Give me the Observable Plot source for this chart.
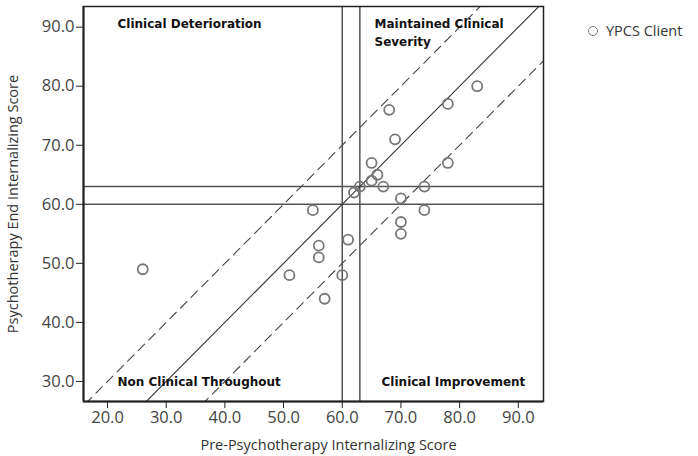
<!DOCTYPE html>
<html>
<head>
<meta charset="utf-8">
<script src="https://cdn.jsdelivr.net/npm/d3@7"></script>
<script src="https://cdn.jsdelivr.net/npm/@observablehq/plot@0.6"></script>
<style>
  html, body { margin: 0; padding: 0; background: #fff; }
  #wrap { position: relative; width: 698px; height: 456px; font-family: "Open Sans", "DejaVu Sans", sans-serif; }
  #legend { position: absolute; left: 588px; top: 21px; font-size: 14.5px; color: #333; display: flex; align-items: center; }
  #legend .dot { width: 8px; height: 8px; border: 1.8px solid #777; border-radius: 50%; margin-right: 8px; }
</style>
</head>
<body>
<div id="wrap"><div id="legend"><span class="dot"></span><span>YPCS Client</span></div></div>
<script>
// Data
const preScores = [83, 78, 68, 69, 65, 78, 66, 65, 63, 62, 67, 74, 70, 74, 70, 70, 61, 55, 56, 56, 51, 60, 57, 26];
const endScores = [80, 77, 76, 71, 67, 67, 65, 64, 63, 62, 63, 63, 61, 59, 57, 55, 54, 59, 53, 51, 48, 48, 44, 49];
const thresholds = [60, 63];
const changeOffsets = [-10, 10];
const xTicks = [20, 30, 40, 50, 60, 70, 80, 90];
const yTicks = [30, 40, 50, 60, 70, 80, 90];
const quadrantLabels = ["Clinical Deterioration", "Maintained Clinical\nSeverity", "Non Clinical Throughout", "Clinical Improvement"];
const seriesName = "YPCS Client";

const points = preScores.map((p, i) => ({pre: p, end: endScores[i], series: seriesName}));
const xDomain = [15.9, 94.3];
const yDomain = [26.6, 93.5];
const lineSpan = [0, 120];
const diag = (off) => lineSpan.map(v => ({x: v, y: v + off}));

const quadrantAnchors = [
  {label: quadrantLabels[0], x: 21.7, y: 90.8},
  {label: quadrantLabels[1], x: 65.5, y: 89.3},
  {label: quadrantLabels[2], x: 21.7, y: 30.1},
  {label: quadrantLabels[3], x: 66.7, y: 30.1}
];

const chart = Plot.plot({
  width: 698,
  height: 456,
  marginLeft: 83,
  marginRight: 155,
  marginTop: 6,
  marginBottom: 55,
  style: {fontFamily: "'Open Sans', 'DejaVu Sans', sans-serif", color: "#333", background: "#fff"},
  x: {domain: xDomain},
  y: {domain: yDomain},
  marks: [
    // reference thresholds
    Plot.ruleY(thresholds, {stroke: "#555", strokeWidth: 1.5}),
    Plot.ruleX(thresholds, {stroke: "#555", strokeWidth: 1.5}),
    // identity line
    Plot.line(diag(0), {x: "x", y: "y", stroke: "#333", strokeWidth: 1.1, clip: true}),
    ...changeOffsets.map(off => Plot.line(diag(off), {x: "x", y: "y", stroke: "#444", strokeWidth: 1.1, strokeDasharray: "9,6", clip: true})),
    // points
    Plot.dot(points, {x: "pre", y: "end", r: 5, stroke: "#777", strokeWidth: 1.8, fill: "none"}),
    // quadrant labels
    Plot.text(quadrantAnchors, {x: "x", y: "y", text: "label", textAnchor: "start", lineAnchor: "middle", lineHeight: 1.45, fontWeight: "bold", fontSize: 12, fill: "#111", fontFamily: "'DejaVu Sans', sans-serif"}),
    // frame
    Plot.frame({stroke: "#222", strokeWidth: 1.5}),
    Plot.axisX(xTicks, {tickFormat: d => d.toFixed(1), tickSize: 7, tickPadding: 3, fontSize: 16.5, stroke: "#222", fill: "#444",
      label: "Pre-Psychotherapy Internalizing Score", labelAnchor: "center", labelArrow: "none", labelOffset: 48}),
    Plot.axisY(yTicks, {tickFormat: d => d.toFixed(1), tickSize: 7, tickPadding: 2, fontSize: 16.5, stroke: "#222", fill: "#444",
      label: "Psychotherapy End Internalizing Score", labelAnchor: "center", labelArrow: "none", labelOffset: 76}),
    Plot.ruleX([xDomain[0]], {stroke: "#222", strokeWidth: 2}),
    Plot.ruleY([yDomain[0]], {stroke: "#222", strokeWidth: 2})
  ]
});
// enlarge axis titles slightly
chart.querySelectorAll("g[aria-label='x-axis label'] text, g[aria-label='y-axis label'] text").forEach(t => { t.setAttribute("font-size", "14.5"); t.setAttribute("fill", "#333"); });
const xl = chart.querySelector("g[aria-label='x-axis label']");
if (xl) { const tr = xl.getAttribute("transform") || ""; xl.setAttribute("transform", (tr + " translate(15,0)").trim()); }
document.getElementById("wrap").prepend(chart);
</script>
</body>
</html>
